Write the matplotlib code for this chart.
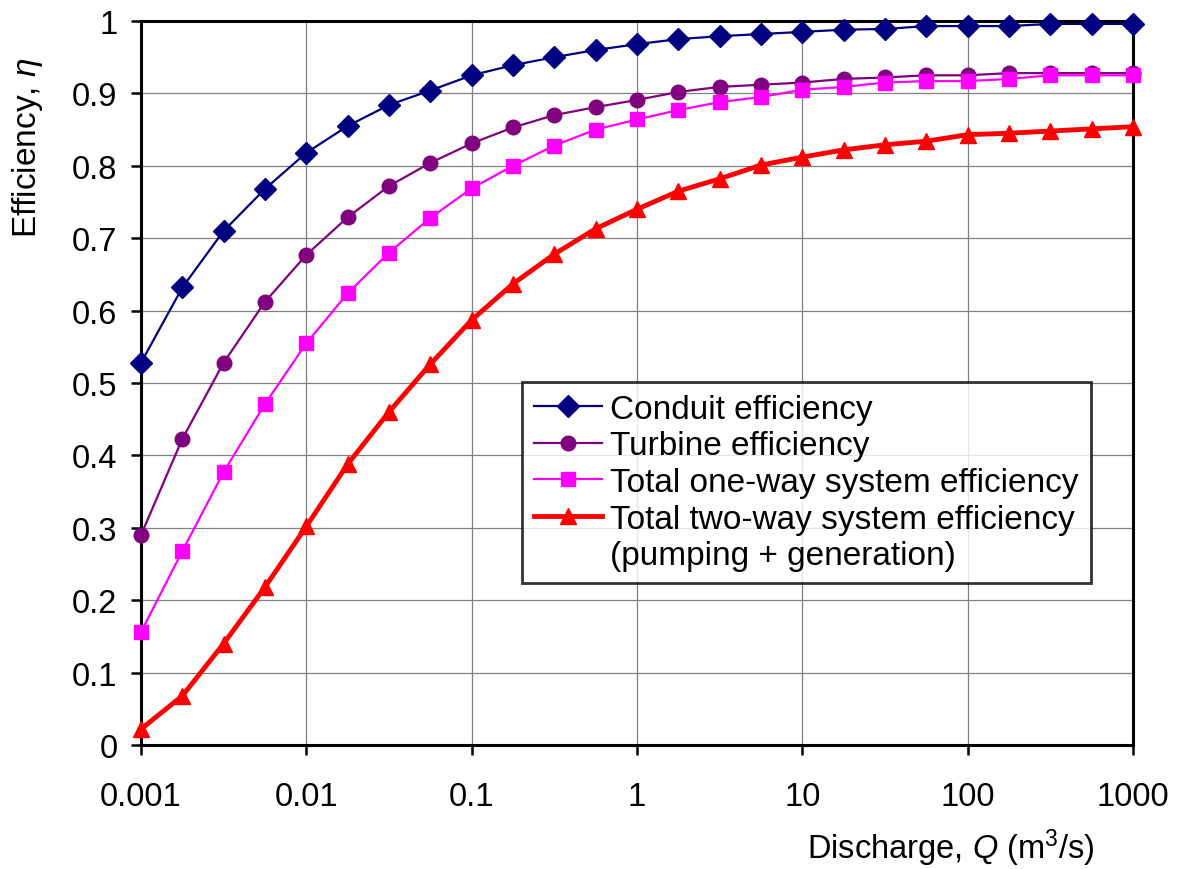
import numpy as np
import matplotlib
matplotlib.use("Agg")
import matplotlib.pyplot as plt
from matplotlib.lines import Line2D

plt.rcParams['font.family'] = ['Liberation Sans', 'DejaVu Sans']
plt.rcParams['mathtext.fontset'] = 'custom'
plt.rcParams['mathtext.rm'] = 'Liberation Sans'
plt.rcParams['mathtext.it'] = 'Liberation Sans:italic'

# Discharge values (m3/s), four points per decade from 0.001 to 1000
discharge = [0.001, 0.00178, 0.00316, 0.00562,
             0.01, 0.0178, 0.0316, 0.0562,
             0.1, 0.178, 0.316, 0.562,
             1, 1.78, 3.16, 5.62,
             10, 17.8, 31.6, 56.2,
             100, 178, 316, 562, 1000]

conduit = [0.528, 0.632, 0.710, 0.768, 0.818, 0.855, 0.884, 0.904,
           0.925, 0.939, 0.950, 0.960, 0.968, 0.975, 0.979, 0.982,
           0.985, 0.988, 0.989, 0.993, 0.993, 0.993, 0.996, 0.996, 0.996]

turbine = [0.290, 0.423, 0.528, 0.612, 0.677, 0.729, 0.772, 0.804,
           0.831, 0.853, 0.870, 0.881, 0.891, 0.902, 0.909, 0.912,
           0.915, 0.920, 0.922, 0.925, 0.925, 0.928, 0.928, 0.928, 0.928]

one_way = [0.156, 0.268, 0.377, 0.471, 0.555, 0.624, 0.680, 0.728,
           0.769, 0.800, 0.828, 0.850, 0.864, 0.877, 0.888, 0.895,
           0.905, 0.909, 0.915, 0.917, 0.917, 0.920, 0.925, 0.925, 0.925]

two_way = [0.022, 0.068, 0.140, 0.218, 0.302, 0.388, 0.460, 0.526,
           0.587, 0.637, 0.678, 0.713, 0.740, 0.765, 0.782, 0.801,
           0.812, 0.822, 0.829, 0.834, 0.843, 0.845, 0.848, 0.851, 0.854]

x_ticks = [0.001, 0.01, 0.1, 1, 10, 100, 1000]
x_tick_labels = ['0.001', '0.01', '0.1', '1', '10', '100', '1000']
y_ticks = np.round(np.arange(0, 1.01, 0.1), 1)
y_tick_labels = ['0', '0.1', '0.2', '0.3', '0.4', '0.5', '0.6', '0.7', '0.8', '0.9', '1']

fig = plt.figure(figsize=(11.82, 8.7), dpi=100)
ax = fig.add_axes([141 / 1182, 1 - 746 / 870, (1133 - 141) / 1182, (746 - 22) / 870])

l1, = ax.plot(discharge, conduit, color='#000080', lw=1.6, marker='D', ms=11,
              clip_on=False, zorder=3)
l2, = ax.plot(discharge, turbine, color='#800080', lw=1.6, marker='o', ms=10.5,
              clip_on=False, zorder=3)
l3, = ax.plot(discharge, one_way, color='#FF00FF', lw=1.6, marker='s', ms=10,
              clip_on=False, zorder=4)
l4, = ax.plot(discharge, two_way, color='#FF0000', lw=3.5, marker='^', ms=12,
              clip_on=False, zorder=5)

ax.set_xscale('log')
ax.set_xlim(0.001, 1000)
ax.set_ylim(0, 1)
ax.set_xticks(x_ticks)
ax.set_xticklabels(x_tick_labels)
ax.set_yticks(y_ticks)
ax.set_yticklabels(y_tick_labels)
ax.minorticks_off()
ax.tick_params(axis='both', direction='out', length=7, width=1.8, labelsize=23.5)
ax.tick_params(axis='x', pad=19)
ax.tick_params(axis='y', pad=10)
ax.grid(True, color='#808080', lw=0.9)
ax.set_axisbelow(True)
for sp in ax.spines.values():
    sp.set_linewidth(2.2)
    sp.set_color('black')

fig.text(1095 / 1182, 1 - 848 / 870, r'Discharge, $Q$ (m$^3$/s)', ha='right',
         va='center', fontsize=23.5)
fig.text(28 / 1182, 1 - 148 / 870, r'Efficiency, $\eta$', rotation=90, ha='center',
         va='center', fontsize=24)

blank = Line2D([], [], color='none')
leg = fig.legend([l1, l2, l3, l4, blank],
                 ['Conduit efficiency', 'Turbine efficiency',
                  'Total one-way system efficiency',
                  'Total two-way system efficiency', '(pumping + generation)'],
                 loc='upper left', bbox_to_anchor=(522 / 1182, 1 - 383 / 870),
                 fontsize=24, frameon=True, fancybox=False, borderaxespad=0,
                 handlelength=2.05, handletextpad=0.25, labelspacing=0.17,
                 borderpad=0.35)
leg.get_frame().set_edgecolor('black')
leg.get_frame().set_linewidth(2)

fig.savefig('out.png', dpi=100)
